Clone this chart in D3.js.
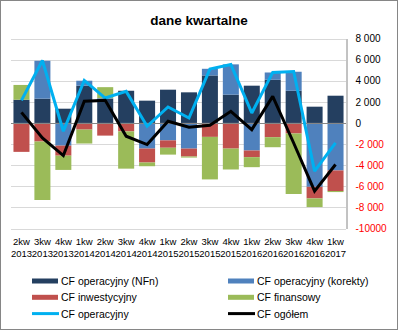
<!DOCTYPE html>
<html lang="pl">
<head>
    <meta charset="UTF-8">
    <title>dane kwartalne</title>
    <script src="https://d3js.org/d3.v7.min.js"></script>
    <style>
        body { margin: 0; background: #fff; }
        text { font-family: "Liberation Sans", Arial, sans-serif; }
    </style>
</head>
<body>
    <script>
        // Kategorie (kwartał / rok)
        const quarters = ['2kw', '3kw', '4kw', '1kw', '2kw', '3kw', '4kw', '1kw',
                          '2kw', '3kw', '4kw', '1kw', '2kw', '3kw', '4kw', '1kw'];
        const years = ['2013', '2013', '2013', '2014', '2014', '2014', '2014', '2015',
                       '2015', '2015', '2015', '2016', '2016', '2016', '2016', '2017'];

        // Słupki (skumulowane)
        const cfNfn = [2200, 2300, 1350, 3530, 2300, 3050, 2110, 3150, 2900, 4500, 2680, 3530, 4090, 3050, 1540, 2580];
        const cfKorekty = [-60, 3590, -2150, 470, 50, -100, -2430, -1650, -2430, 630, 2870, -2610, 690, 1800, -6050, -4500];
        const cfInwest = [-2680, -1760, -950, -630, -1200, -700, -1320, -700, -750, -1320, -2430, -630, -1350, -1000, -1100, -1950];
        const cfFinans = [1400, -5540, -1350, -1320, 1040, -3530, -350, -650, -100, -4030, -1980, -950, -950, -5730, -820, -100];

        // Linie
        const cfOperacyjny = [2140, 5920, -790, 4030, 2360, 2990, -315, 1510, 470, 5100, 5540, 945, 4790, 4880, -4570, -1890];
        const cfOgolem = [1000, -1420, -3090, 2050, 2140, -1260, -2050, 160, -410, -220, 1100, -630, 2520, -1900, -6460, -3940];

        // Oś Y
        const yTicks = [-10000, -8000, -6000, -4000, -2000, 0, 2000, 4000, 6000, 8000];
        const yTickLabels = ['-10000', '-8 000', '-6 000', '-4 000', '-2 000', '0', '2 000', '4 000', '6 000', '8 000'];

        const barSeries = [
            { key: 'nfn', name: 'CF operacyjny (NFn)', color: '#243F60', values: cfNfn },
            { key: 'kor', name: 'CF operacyjny (korekty)', color: '#4F81BD', values: cfKorekty },
            { key: 'inw', name: 'CF inwestycyjny', color: '#C0504D', values: cfInwest },
            { key: 'fin', name: 'CF finansowy', color: '#9BBB59', values: cfFinans }
        ];
        const lineSeries = [
            { name: 'CF operacyjny', color: '#00B0F0', values: cfOperacyjny },
            { name: 'CF ogółem', color: '#000000', values: cfOgolem }
        ];

        const width = 398, height = 330;
        const svg = d3.select('body').append('svg')
            .attr('width', width)
            .attr('height', height);

        // ramka wykresu
        svg.append('rect')
            .attr('x', 0.5).attr('y', 0.5)
            .attr('width', width - 1).attr('height', height - 1)
            .attr('fill', '#fff')
            .attr('stroke', '#868686');

        svg.append('text')
            .attr('x', 199).attr('y', 25)
            .attr('text-anchor', 'middle')
            .attr('font-size', 13.5)
            .attr('font-weight', 'bold')
            .text('dane kwartalne');

        const idx = d3.range(quarters.length);
        const x = d3.scaleBand()
            .domain(idx)
            .range([11, 346])
            .paddingInner(0.235)
            .paddingOuter(0.1175);
        const y = d3.scaleLinear()
            .domain([-10000, 8000])
            .range([228.5, 38.5]);

        // siatka
        svg.append('g')
            .selectAll('line')
            .data(yTicks.filter(t => t !== 0))
            .join('line')
            .attr('x1', 11).attr('x2', 346)
            .attr('y1', d => Math.round(y(d)) + 0.5)
            .attr('y2', d => Math.round(y(d)) + 0.5)
            .attr('stroke', '#D9D9D9');

        // słupki
        const table = idx.map(i => {
            const row = { i };
            barSeries.forEach(s => { row[s.key] = s.values[i]; });
            return row;
        });
        const stacked = d3.stack()
            .keys(barSeries.map(s => s.key))
            .offset(d3.stackOffsetDiverging)(table);

        svg.append('g')
            .selectAll('g')
            .data(stacked)
            .join('g')
            .attr('fill', (d, k) => barSeries[k].color)
            .selectAll('rect')
            .data(d => d)
            .join('rect')
            .attr('x', d => x(d.data.i))
            .attr('width', x.bandwidth())
            .attr('y', d => y(Math.max(d[0], d[1])))
            .attr('height', d => Math.abs(y(d[0]) - y(d[1])));

        // linia zerowa
        svg.append('line')
            .attr('x1', 11).attr('x2', 346)
            .attr('y1', Math.round(y(0)) + 0.5)
            .attr('y2', Math.round(y(0)) + 0.5)
            .attr('stroke', '#868686');

        // linie
        const line = d3.line()
            .x((d, i) => x(i) + x.bandwidth() / 2)
            .y(d => y(d));
        lineSeries.forEach(s => {
            svg.append('path')
                .datum(s.values)
                .attr('d', line)
                .attr('fill', 'none')
                .attr('stroke', s.color)
                .attr('stroke-width', 3)
                .attr('stroke-linejoin', 'miter')
                .attr('stroke-miterlimit', 2);
        });

        // oś prawa
        const yAxis = d3.axisRight(y)
            .tickValues(yTicks)
            .tickSize(0)
            .tickPadding(9)
            .tickFormat(d => yTickLabels[yTicks.indexOf(d)]);
        const ag = svg.append('g')
            .attr('transform', 'translate(346.5,0)')
            .call(yAxis);
        ag.select('.domain').attr('stroke', '#868686');
        ag.selectAll('text')
            .attr('font-size', 10)
            .attr('font-family', '"Liberation Sans", Arial, sans-serif')
            .attr('fill', d => d < 0 ? '#FF0000' : '#000');

        // etykiety osi X
        const xl = svg.append('g')
            .selectAll('text')
            .data(idx)
            .join('text')
            .attr('x', i => x(i) + x.bandwidth() / 2)
            .attr('text-anchor', 'middle')
            .attr('font-size', 9.5);
        xl.append('tspan').attr('x', i => x(i) + x.bandwidth() / 2).attr('y', 245).text(i => quarters[i]);
        xl.append('tspan').attr('x', i => x(i) + x.bandwidth() / 2).attr('y', 257).text(i => years[i]);

        // legenda
        const legendItems = [
            { name: barSeries[0].name, color: barSeries[0].color, type: 'bar' },
            { name: barSeries[1].name, color: barSeries[1].color, type: 'bar' },
            { name: barSeries[2].name, color: barSeries[2].color, type: 'bar' },
            { name: barSeries[3].name, color: barSeries[3].color, type: 'bar' },
            { name: lineSeries[0].name, color: lineSeries[0].color, type: 'line' },
            { name: lineSeries[1].name, color: lineSeries[1].color, type: 'line' }
        ];
        const lg = svg.append('g')
            .selectAll('g')
            .data(legendItems)
            .join('g')
            .attr('transform', (d, i) => `translate(${i % 2 === 0 ? 32 : 228},${281 + Math.floor(i / 2) * 16.3})`);
        lg.filter(d => d.type === 'bar').append('rect')
            .attr('x', 0).attr('y', -2.5)
            .attr('width', 26).attr('height', 5)
            .attr('fill', d => d.color);
        lg.filter(d => d.type === 'line').append('line')
            .attr('x1', 0).attr('x2', 27)
            .attr('stroke', d => d.color)
            .attr('stroke-width', 3);
        lg.append('text')
            .attr('x', 29).attr('y', 4)
            .attr('font-size', 10.5)
            .text(d => d.name);
    </script>
</body>
</html>
